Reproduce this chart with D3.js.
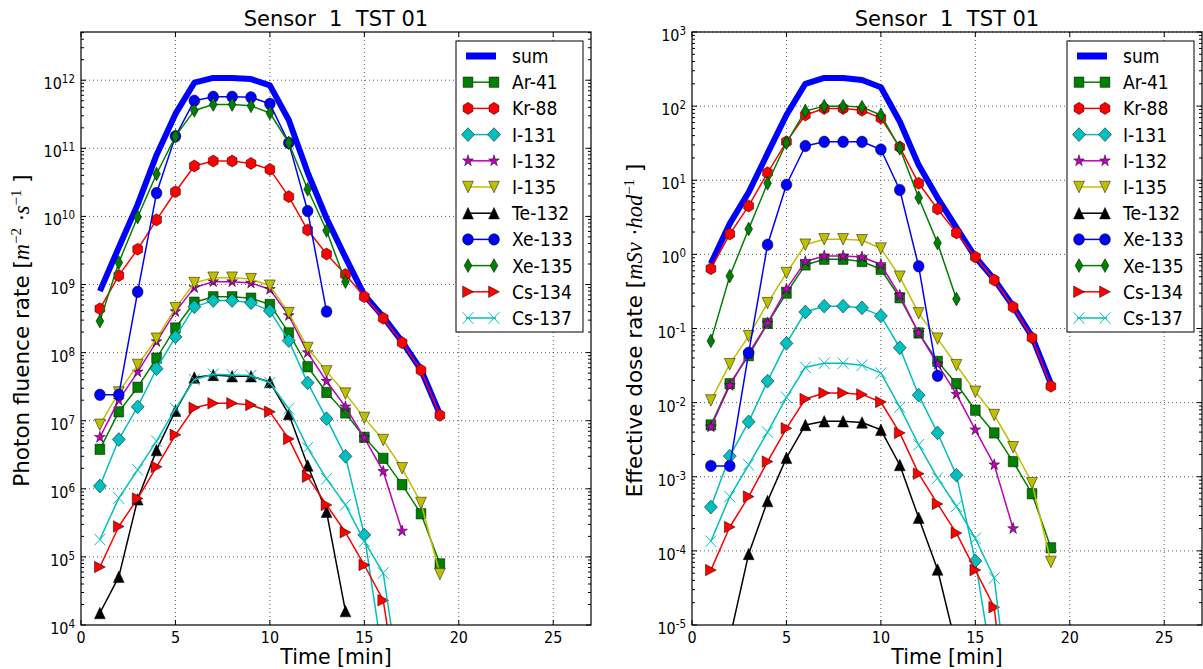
<!DOCTYPE html>
<html>
<head>
<meta charset="utf-8">
<script src="https://cdn.jsdelivr.net/npm/d3@7"></script>
<style>
  body { margin: 0; background: #fff; }
  svg { font-family: "DejaVu Sans", sans-serif; }
</style>
</head>
<body>
<svg id="chart" width="1203" height="669"></svg>
<script>
// ---- data ----
const time = [1, 2, 3, 4, 5, 6, 7, 8, 9, 10, 11, 12, 13, 14, 15, 16, 17, 18, 19];
const xTicks = [0, 5, 10, 15, 20, 25];
const seriesNames = ["sum", "Ar-41", "Kr-88", "I-131", "I-132", "I-135", "Te-132", "Xe-133", "Xe-135", "Cs-134", "Cs-137"];

// photon fluence rate [m^-2 s^-1]
const fluenceSum = [8.0e8, 3.5e9, 1.5e10, 8.0e10, 3.2e11, 9.2e11, 1.08e12, 1.08e12, 1.04e12, 8.4e11, 2.6e11, 4.4e10, 9.4e9, 2.5e9, 7.0e8, 3.35e8, 1.45e8, 5.6e7, 1.25e7];
const fluenceAr41 = [3.8e6, 1.35e7, 3.1e7, 8.3e7, 2.3e8, 5.5e8, 6.6e8, 6.6e8, 6.3e8, 5.1e8, 1.95e8, 6.2e7, 2.6e7, 1.3e7, 5.7e6, 2.8e6, 1.15e6, 4.3e5, 7.9e4];
const fluenceKr88 = [4.4e8, 1.35e9, 3.3e9, 8.9e9, 2.3e10, 5.5e10, 6.5e10, 6.5e10, 6.0e10, 4.9e10, 1.95e10, 6.3e9, 2.8e9, 1.4e9, 6.6e8, 3.2e8, 1.4e8, 5.5e7, 1.2e7];
const fluenceI131 = [1.1e6, 5.3e6, 1.6e7, 5.8e7, 1.7e8, 4.7e8, 5.8e8, 5.8e8, 5.4e8, 4.1e8, 1.5e8, 3.6e7, 1.07e7, 3.0e6, 2.1e5, 3.0e3];
const fluenceI132 = [5.7e6, 2.0e7, 5.2e7, 1.45e8, 4.0e8, 9.0e8, 1.1e9, 1.1e9, 1.05e9, 8.5e8, 3.5e8, 1.0e8, 3.8e7, 1.6e7, 5.6e6, 1.8e6, 2.4e5];
const fluenceI135 = [8.7e6, 2.6e7, 6.6e7, 1.6e8, 4.5e8, 1.05e9, 1.26e9, 1.26e9, 1.2e9, 9.6e8, 3.8e8, 1.17e8, 5.3e7, 2.5e7, 1.1e7, 5.2e6, 2.0e6, 6.2e5, 5.6e4];
const fluenceTe132 = [1.5e4, 5.1e4, 7.0e5, 3.7e6, 1.4e7, 4.3e7, 4.7e7, 4.5e7, 4.5e7, 3.7e7, 1.25e7, 2.2e6, 4.6e5, 1.6e4];
const fluenceXe133 = [2.4e7, 2.4e7, 7.8e8, 2.2e10, 1.5e11, 5.0e11, 5.7e11, 5.7e11, 5.6e11, 4.5e11, 1.2e11, 1.2e10, 4.0e8];
const fluenceXe135 = [2.9e8, 2.1e9, 9.8e9, 4.2e10, 1.5e11, 3.6e11, 4.4e11, 4.4e11, 4.2e11, 3.3e11, 1.2e11, 2.5e10, 6.2e9, 1.1e9];
const fluenceCs134 = [7.1e4, 2.8e5, 7.2e5, 2.1e6, 6.2e6, 1.55e7, 1.8e7, 1.8e7, 1.7e7, 1.35e7, 5.4e6, 1.5e6, 5.8e5, 2.3e5, 7.6e4, 2.3e4, 4.0e2];
const fluenceCs137 = [1.8e5, 7.3e5, 1.9e6, 5.0e6, 1.5e7, 4.0e7, 4.8e7, 4.7e7, 4.6e7, 3.6e7, 1.5e7, 4.0e6, 1.4e6, 5.8e5, 1.7e5, 5.8e4, 8.0e2];

// effective dose rate [mSv/h]
const doseSum = [0.75, 2.6, 6.9, 23, 76, 200, 240, 240, 225, 180, 62, 16, 5.8, 2.3, 0.92, 0.46, 0.2, 0.078, 0.018];
const doseAr41 = [5.0e-3, 0.018, 0.043, 0.117, 0.30, 0.72, 0.86, 0.86, 0.80, 0.63, 0.26, 0.087, 0.036, 0.018, 7.9e-3, 3.9e-3, 1.6e-3, 5.9e-4, 1.1e-4];
const doseKr88 = [0.64, 1.88, 4.5, 12.6, 33, 76, 93, 93, 88, 69, 28, 9.1, 4.1, 1.95, 0.92, 0.45, 0.195, 0.075, 0.0166];
const doseI131 = [3.9e-4, 1.9e-3, 5.5e-3, 0.0195, 0.063, 0.167, 0.20, 0.20, 0.19, 0.148, 0.055, 0.0126, 3.9e-3, 1.05e-3, 7.3e-5, 2.0e-6];
const doseI132 = [4.7e-3, 0.017, 0.046, 0.118, 0.34, 0.80, 0.95, 0.95, 0.92, 0.73, 0.28, 0.087, 0.033, 0.013, 4.3e-3, 1.45e-3, 2.0e-4];
const doseI135 = [0.0107, 0.033, 0.079, 0.22, 0.56, 1.35, 1.6, 1.6, 1.55, 1.2, 0.5, 0.16, 0.073, 0.032, 0.014, 6.8e-3, 2.5e-3, 8.2e-4, 7.1e-5];
const doseTe132 = [3.0e-7, 6.6e-6, 9.1e-5, 4.7e-4, 1.8e-3, 5.0e-3, 5.6e-3, 5.6e-3, 5.4e-3, 4.3e-3, 1.44e-3, 2.8e-4, 5.6e-5, 5.0e-6];
const doseXe133 = [1.4e-3, 1.4e-3, 0.047, 1.35, 8.7, 29, 33, 33, 33, 26, 7.4, 0.69, 0.023];
const doseXe135 = [0.068, 0.51, 2.2, 9.1, 32, 86, 100, 100, 97, 76, 27, 5.8, 1.42, 0.25];
const doseCs134 = [5.5e-5, 2.1e-4, 5.4e-4, 1.6e-3, 4.5e-3, 0.0112, 0.0135, 0.0135, 0.0129, 0.0102, 3.9e-3, 1.1e-3, 4.3e-4, 1.74e-4, 5.5e-5, 1.74e-5, 1.0e-7];
const doseCs137 = [1.35e-4, 5.4e-4, 1.45e-3, 4.0e-3, 0.0118, 0.030, 0.034, 0.034, 0.032, 0.025, 8.7e-3, 2.7e-3, 9.6e-4, 4.0e-4, 1.47e-4, 4.3e-5, 3.4e-7];

const fluenceSeries = [fluenceSum, fluenceAr41, fluenceKr88, fluenceI131, fluenceI132, fluenceI135, fluenceTe132, fluenceXe133, fluenceXe135, fluenceCs134, fluenceCs137];
const doseSeries = [doseSum, doseAr41, doseKr88, doseI131, doseI132, doseI135, doseTe132, doseXe133, doseXe135, doseCs134, doseCs137];

// ---- styles ----
const styles = {
  "sum":    { color: "#0000ff", marker: null, lw: 6 },
  "Ar-41":  { color: "#008000", marker: "s" },
  "Kr-88":  { color: "#ff0000", marker: "h" },
  "I-131":  { color: "#00bfbf", marker: "D" },
  "I-132":  { color: "#bf00bf", marker: "*" },
  "I-135":  { color: "#bfbf00", marker: "v" },
  "Te-132": { color: "#000000", marker: "^" },
  "Xe-133": { color: "#0000ff", marker: "o" },
  "Xe-135": { color: "#008000", marker: "d" },
  "Cs-134": { color: "#ff0000", marker: ">" },
  "Cs-137": { color: "#00bfbf", marker: "x" }
};

const sx = 0.86;       // small text is a bit squeezed in the picture
const ms = 11.5;       // marker size
const plotTop = 32, plotBottom = 625, plotWidth = 510;

const polygon = (n, r, inner) => {
  const pts = [];
  const count = inner ? n * 2 : n;
  for (let i = 0; i < count; i++) {
    const a = -Math.PI / 2 + i * Math.PI * 2 / count;
    const rr = inner && i % 2 ? r * inner : r;
    pts.push([rr * Math.cos(a), rr * Math.sin(a)]);
  }
  return "M" + pts.map(p => p[0].toFixed(2) + "," + p[1].toFixed(2)).join("L") + "Z";
};

const markerPath = (type) => {
  const r = ms / 2;
  const d = r * Math.SQRT2 * 0.85;
  switch (type) {
    case "s": return `M${-r * 0.9},${-r * 0.9}H${r * 0.9}V${r * 0.9}H${-r * 0.9}Z`;
    case "o": return `M${r},0A${r},${r} 0 1,1 ${-r},0A${r},${r} 0 1,1 ${r},0Z`;
    case "h": return polygon(6, r * 1.05);
    case "D": return `M0,${-d}L${d},0L0,${d}L${-d},0Z`;
    case "d": return `M0,${-d}L${d * 0.6},0L0,${d}L${-d * 0.6},0Z`;
    case "*": return polygon(5, r * 1.05, 0.381966);
    case "v": return `M0,${r}L${-r},${-r}L${r},${-r}Z`;
    case "^": return `M0,${-r}L${-r},${r}L${r},${r}Z`;
    case ">": return `M${r},0L${-r},${-r}L${-r},${r}Z`;
    case "x": return `M${-r},${-r}L${r},${r}M${-r},${r}L${r},${-r}`;
  }
  return "";
};

const drawMarker = (g, type, color, x, y) => {
  const p = g.append("path")
    .attr("d", markerPath(type))
    .attr("transform", `translate(${x},${y}) scale(0.94,1)`);
  if (type === "x") {
    p.attr("fill", "none").attr("stroke", color).attr("stroke-width", 1);
  } else {
    p.attr("fill", color).attr("stroke", "#000").attr("stroke-width", 0.5);
  }
};

const squeezedText = (g, x, y, anchor, size, k = sx) =>
  g.append("text")
    .attr("transform", `translate(${x},${y}) scale(${k},1)`)
    .attr("text-anchor", anchor)
    .attr("font-size", size)
    .attr("fill", "#000");

const svg = d3.select("#chart");

const drawPanel = (p, idx) => {
  const x = d3.scaleLinear().domain([0, 27]).range([p.left, p.left + plotWidth]);
  const y = d3.scaleLog().domain(p.yDomain).range([plotBottom, plotTop]);
  const g = svg.append("g");

  const clipId = "clip" + idx;
  svg.append("clipPath").attr("id", clipId)
    .append("rect").attr("x", p.left).attr("y", plotTop)
    .attr("width", plotWidth).attr("height", plotBottom - plotTop);

  // grid
  const grid = g.append("g").attr("stroke", "#000").attr("stroke-width", 0.8)
    .attr("stroke-dasharray", "1,3").attr("opacity", 0.8);
  xTicks.filter(t => t > 0).forEach(t => {
    grid.append("line").attr("x1", x(t)).attr("x2", x(t)).attr("y1", plotTop).attr("y2", plotBottom);
  });
  p.decades.forEach(e => {
    const v = Math.pow(10, e);
    if (e === p.decades[0]) return;
    grid.append("line").attr("x1", p.left).attr("x2", p.left + plotWidth).attr("y1", y(v)).attr("y2", y(v));
  });

  // series
  const data = g.append("g").attr("clip-path", `url(#${clipId})`);
  const line = d3.line().x(d => x(d[0])).y(d => y(d[1]));
  p.series.forEach((vals, i) => {
    const st = styles[seriesNames[i]];
    const pts = vals.map((v, j) => [time[j], v]);
    data.append("path").attr("d", line(pts)).attr("fill", "none")
      .attr("stroke", st.color).attr("stroke-width", st.lw || 1.5)
      .attr("stroke-linejoin", "round");
    if (st.marker) {
      pts.forEach(pt => drawMarker(data, st.marker, st.color, x(pt[0]), y(pt[1])));
    }
  });

  // ticks
  const ticks = g.append("g").attr("stroke", "#000").attr("stroke-width", 1);
  xTicks.forEach(t => {
    ticks.append("line").attr("x1", x(t)).attr("x2", x(t)).attr("y1", plotBottom).attr("y2", plotBottom - 5);
    ticks.append("line").attr("x1", x(t)).attr("x2", x(t)).attr("y1", plotTop).attr("y2", plotTop + 5);
  });
  p.decades.forEach(e => {
    const v = Math.pow(10, e);
    ticks.append("line").attr("x1", p.left).attr("x2", p.left + 5).attr("y1", y(v)).attr("y2", y(v));
    ticks.append("line").attr("x1", p.left + plotWidth).attr("x2", p.left + plotWidth - 5).attr("y1", y(v)).attr("y2", y(v));
    for (let k = 2; k <= 9; k++) {
      const mv = k * v;
      if (mv > p.yDomain[1]) break;
      ticks.append("line").attr("x1", p.left).attr("x2", p.left + 3).attr("y1", y(mv)).attr("y2", y(mv));
      ticks.append("line").attr("x1", p.left + plotWidth).attr("x2", p.left + plotWidth - 3).attr("y1", y(mv)).attr("y2", y(mv));
    }
  });

  // frame
  g.append("rect").attr("x", p.left).attr("y", plotTop).attr("width", plotWidth)
    .attr("height", plotBottom - plotTop).attr("fill", "none").attr("stroke", "#000").attr("stroke-width", 1.2);

  // tick labels
  xTicks.forEach(t => {
    squeezedText(g, x(t), plotBottom + 18, "middle", 16.7).text(t);
  });
  p.decades.forEach(e => {
    const t = squeezedText(g, p.left - 6, y(Math.pow(10, e)) + 9, "end", 16.7);
    t.append("tspan").text("10");
    t.append("tspan").attr("dy", -6).attr("font-size", 12).text(String(e));
  });

  // titles
  squeezedText(g, p.left + plotWidth / 2, 26, "middle", 21, 1)
    .attr("xml:space", "preserve").style("white-space", "pre").text("Sensor  1  TST 01");
  squeezedText(g, p.left + plotWidth / 2, 664, "middle", 20.5, 1).text("Time [min]");

  const yl = g.append("text")
    .attr("transform", `translate(${p.labelX},${(plotTop + plotBottom) / 2 + 2}) rotate(-90)`)
    .attr("text-anchor", "middle").attr("font-size", 21.5).attr("fill", "#000")
    .style("white-space", "pre");
  p.ylabel.forEach(part => {
    const ts = yl.append("tspan").text(part.t);
    if (part.math) ts.attr("font-family", "'Liberation Serif', serif").attr("font-style", "italic").attr("font-size", 22.5);
    if (part.sup) ts.attr("font-family", "'Liberation Serif', serif").attr("font-size", 15).attr("dy", -8);
    if (part.down) ts.attr("dy", 8);
  });

  // legend
  const lx = p.left + plotWidth - 8 - 127, ly = 41;
  const lg = g.append("g");
  lg.append("rect").attr("x", lx).attr("y", ly).attr("width", 127).attr("height", 291)
    .attr("fill", "#fff").attr("stroke", "#000").attr("stroke-width", 1);
  seriesNames.forEach((name, i) => {
    const st = styles[name];
    const ry = 56 + i * 26.2;
    lg.append("line").attr("x1", lx + 10).attr("x2", lx + 40).attr("y1", ry).attr("y2", ry)
      .attr("stroke", st.color).attr("stroke-width", st.lw ? 7 : 1.5);
    if (st.marker) {
      drawMarker(lg, st.marker, st.color, lx + 12, ry);
      drawMarker(lg, st.marker, st.color, lx + 38, ry);
    }
    squeezedText(lg, lx + 56, ry + 7, "start", 20).text(name);
  });
};

const panels = [
  {
    left: 81, yDomain: [1e4, Math.pow(10, 12.708)], decades: d3.range(4, 13), labelX: 29,
    series: fluenceSeries,
    ylabel: [{ t: "Photon fluence rate [" }, { t: "m", math: true }, { t: "\u22122", sup: true },
             { t: " \u00b7", down: true }, { t: "s", math: true }, { t: "\u22121", sup: true }, { t: " ]", down: true }]
  },
  {
    left: 692, yDomain: [1e-5, 1e3], decades: d3.range(-5, 4), labelX: 642,
    series: doseSeries,
    ylabel: [{ t: "Effective dose rate [" }, { t: "mSv", math: true }, { t: " \u00b7" },
             { t: "hod", math: true }, { t: "\u22121", sup: true }, { t: " ]", down: true }]
  }
];

panels.forEach((p, i) => drawPanel(p, i));
</script>
</body>
</html>
